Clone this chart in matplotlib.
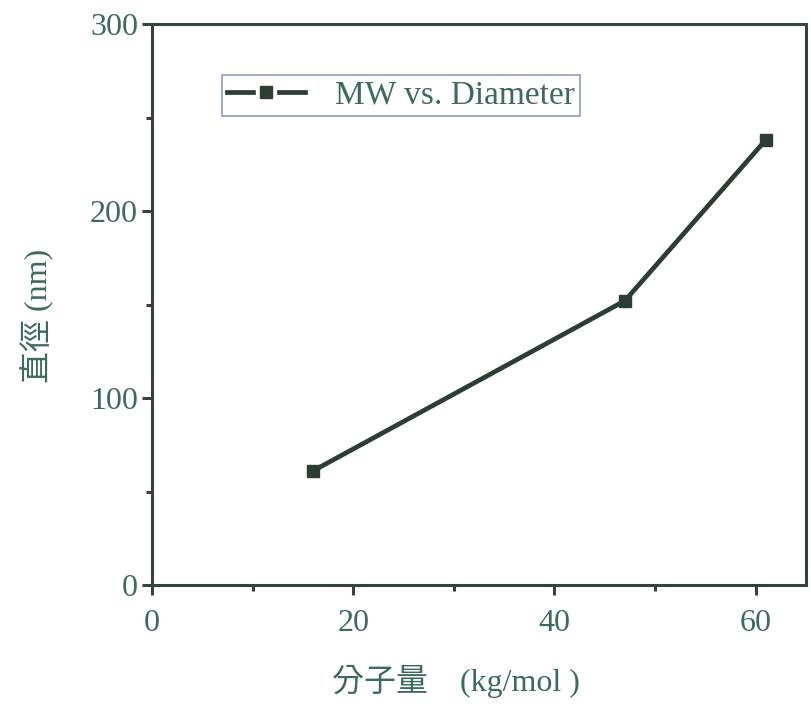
import matplotlib
matplotlib.use('Agg')
import matplotlib.pyplot as plt
from matplotlib.lines import Line2D
from matplotlib.legend_handler import HandlerTuple
from matplotlib.ticker import MultipleLocator

# 分子量 (kg/mol) vs 直徑 (nm)
mw = [16, 47, 61]
diameter = [61, 152, 238]
series_name = 'MW vs. Diameter'
x_ticks = [0, 20, 40, 60]
y_ticks = [0, 100, 200, 300]

line_c = '#2c3d33'
text_c = '#3c6b58'
spine_c = '#34443d'
fonts = ['Liberation Serif', 'Noto Sans CJK TC']

plt.rcParams['font.family'] = fonts

fig = plt.figure(figsize=(8.11, 7.09), dpi=100)
ax = fig.add_axes([0.1874, 0.1749, 0.8064, 0.7912])

ax.plot(mw, diameter, color=line_c, lw=3.4, marker='s', ms=8.5,
        mfc=line_c, mec=line_c, solid_joinstyle='miter')

ax.set_xlim(0, 65)
ax.set_ylim(0, 300)
ax.set_xticks(x_ticks)
ax.set_yticks(y_ticks)
ax.xaxis.set_minor_locator(MultipleLocator(10))
ax.yaxis.set_minor_locator(MultipleLocator(50))

for s in ax.spines.values():
    s.set_color(spine_c)
    s.set_linewidth(2.2)
ax.tick_params(which='major', direction='out', length=7, width=2.2,
               color=spine_c, labelcolor=text_c, labelsize=23)
ax.tick_params(axis='x', which='major', pad=10)
ax.tick_params(axis='y', which='major', pad=3)
ax.tick_params(which='minor', direction='out', length=4, width=2.2,
               color=spine_c)

ax.set_xlabel('分子量\u3000(kg/mol )', fontsize=23, color=text_c)
ax.xaxis.set_label_coords(0.465, -0.142)
ax.set_ylabel('直徑 (nm)', fontsize=23, color=text_c)
ax.yaxis.set_label_coords(-0.15, 0.48)

# legend handle: line with a gap round the marker, like the original
h_line = Line2D([], [], color=line_c, lw=3.4)
h_gap = Line2D([], [], ls='none', marker='s', ms=15, mfc='white', mec='white')
h_mark = Line2D([], [], ls='none', marker='s', ms=8.5, mfc=line_c, mec=line_c)
leg = ax.legend([(h_line, h_gap, h_mark)], [series_name],
                handler_map={tuple: HandlerTuple(ndivide=1, pad=0)},
                loc='upper left', bbox_to_anchor=(0.107, 0.909),
                fontsize=24, frameon=True, fancybox=False,
                handlelength=2.35, handletextpad=0.9, borderpad=0.15,
                borderaxespad=0)
leg.get_frame().set_edgecolor('#7585a5')
leg.get_frame().set_linewidth(1.2)
for t in leg.get_texts():
    t.set_color(text_c)

fig.savefig('out.png', dpi=100)
